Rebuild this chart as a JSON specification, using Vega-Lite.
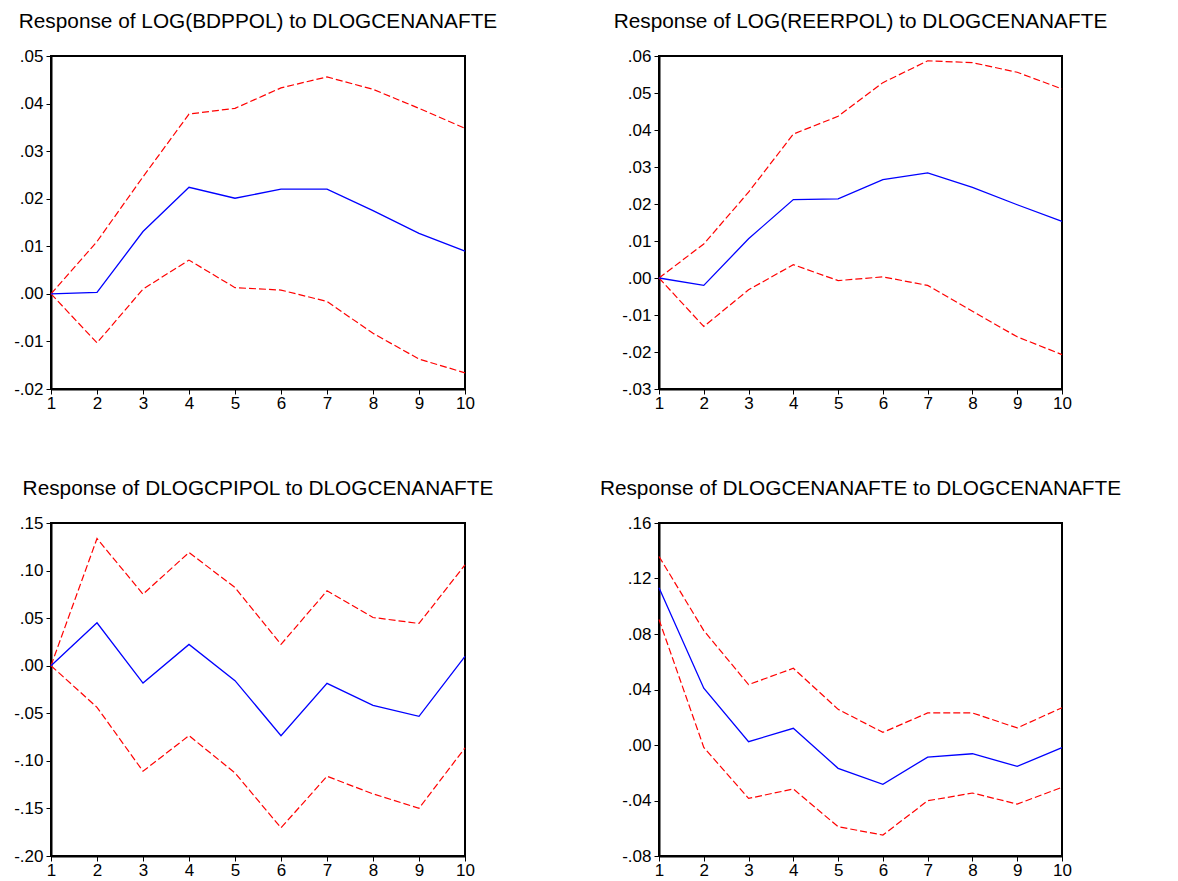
{
  "$schema": "https://vega.github.io/schema/vega-lite/v6.json",
  "background": "white",
  "padding": {"left": 12, "top": 10, "right": 5, "bottom": 0},
  "bounds": "flush",
  "columns": 2,
  "spacing": {"row": 134, "column": 194},
  "datasets": {
    "bdp": [
      {"h": 1, "resp": 0.0, "upper": 0.0, "lower": 0.0},
      {"h": 2, "resp": 0.0003, "upper": 0.011, "lower": -0.0103},
      {"h": 3, "resp": 0.0131, "upper": 0.0246, "lower": 0.001},
      {"h": 4, "resp": 0.0224, "upper": 0.0378, "lower": 0.0071},
      {"h": 5, "resp": 0.0201, "upper": 0.039, "lower": 0.0013},
      {"h": 6, "resp": 0.022, "upper": 0.0433, "lower": 0.0008},
      {"h": 7, "resp": 0.022, "upper": 0.0456, "lower": -0.0016},
      {"h": 8, "resp": 0.0175, "upper": 0.043, "lower": -0.0083},
      {"h": 9, "resp": 0.0127, "upper": 0.039, "lower": -0.0137},
      {"h": 10, "resp": 0.009, "upper": 0.0348, "lower": -0.0166}
    ],
    "reer": [
      {"h": 1, "resp": 0.0, "upper": 0.0, "lower": 0.0},
      {"h": 2, "resp": -0.002, "upper": 0.0092, "lower": -0.0131},
      {"h": 3, "resp": 0.0106, "upper": 0.0232, "lower": -0.0032},
      {"h": 4, "resp": 0.0212, "upper": 0.0389, "lower": 0.0036},
      {"h": 5, "resp": 0.0214, "upper": 0.0437, "lower": -0.0007},
      {"h": 6, "resp": 0.0266, "upper": 0.0528, "lower": 0.0003},
      {"h": 7, "resp": 0.0284, "upper": 0.0587, "lower": -0.002},
      {"h": 8, "resp": 0.0245, "upper": 0.0582, "lower": -0.009},
      {"h": 9, "resp": 0.0198, "upper": 0.0556, "lower": -0.0159},
      {"h": 10, "resp": 0.0153, "upper": 0.0511, "lower": -0.0207}
    ],
    "cpi": [
      {"h": 1, "resp": 0.0, "upper": 0.0, "lower": 0.0},
      {"h": 2, "resp": 0.0451, "upper": 0.1337, "lower": -0.0437},
      {"h": 3, "resp": -0.0182, "upper": 0.0752, "lower": -0.1109},
      {"h": 4, "resp": 0.0224, "upper": 0.119, "lower": -0.0735},
      {"h": 5, "resp": -0.0157, "upper": 0.0822, "lower": -0.1127},
      {"h": 6, "resp": -0.0735, "upper": 0.0224, "lower": -0.1704},
      {"h": 7, "resp": -0.0185, "upper": 0.0787, "lower": -0.1162},
      {"h": 8, "resp": -0.0416, "upper": 0.0507, "lower": -0.1347},
      {"h": 9, "resp": -0.0532, "upper": 0.0444, "lower": -0.1498},
      {"h": 10, "resp": 0.0098, "upper": 0.106, "lower": -0.0864}
    ],
    "cena": [
      {"h": 1, "resp": 0.1133, "upper": 0.1359, "lower": 0.0904},
      {"h": 2, "resp": 0.0409, "upper": 0.0825, "lower": -0.0017},
      {"h": 3, "resp": 0.0024, "upper": 0.0435, "lower": -0.0385},
      {"h": 4, "resp": 0.012, "upper": 0.0553, "lower": -0.0317},
      {"h": 5, "resp": -0.0168, "upper": 0.0257, "lower": -0.0589},
      {"h": 6, "resp": -0.0284, "upper": 0.0091, "lower": -0.0649},
      {"h": 7, "resp": -0.0087, "upper": 0.0231, "lower": -0.0402},
      {"h": 8, "resp": -0.0063, "upper": 0.0231, "lower": -0.0346},
      {"h": 9, "resp": -0.0154, "upper": 0.0123, "lower": -0.0426},
      {"h": 10, "resp": -0.0019, "upper": 0.0269, "lower": -0.0305}
    ]
  },
  "concat": [
    {
      "title": "Response of LOG(BDPPOL) to DLOGCENANAFTE",
      "width": 414,
      "height": 333,
      "data": {"name": "bdp"},
      "encoding": {
        "x": {"field": "h", "type": "quantitative", "title": null,
              "scale": {"domain": [1, 10], "nice": false, "zero": false},
              "axis": {"values": [1, 2, 3, 4, 5, 6, 7, 8, 9, 10], "tickCount": 20, "format": "d", "labelOverlap": false}}
      },
      "layer": [
        {"mark": {"type": "rule", "color": "black", "strokeWidth": 1},
         "encoding": {"y": {"datum": 0, "type": "quantitative"}}},
        {"mark": {"type": "line", "color": "#ff0000", "strokeWidth": 1.2, "strokeDash": [7, 3]},
         "encoding": {"y": {"field": "upper", "type": "quantitative", "title": null,
                            "scale": {"domain": [-0.02, 0.05], "nice": false, "zero": false},
                            "axis": {"values": [-0.02, -0.01, 0, 0.01, 0.02, 0.03, 0.04, 0.05], "tickCount": 20, "labelOverlap": false}}}},
        {"mark": {"type": "line", "color": "#ff0000", "strokeWidth": 1.2, "strokeDash": [7, 3]},
         "encoding": {"y": {"field": "lower", "type": "quantitative"}}},
        {"mark": {"type": "line", "color": "#0000ff", "strokeWidth": 1.3},
         "encoding": {"y": {"field": "resp", "type": "quantitative"}}}
      ]
    },
    {
      "title": "Response of LOG(REERPOL) to DLOGCENANAFTE",
      "width": 403,
      "height": 333,
      "data": {"name": "reer"},
      "encoding": {
        "x": {"field": "h", "type": "quantitative", "title": null,
              "scale": {"domain": [1, 10], "nice": false, "zero": false},
              "axis": {"values": [1, 2, 3, 4, 5, 6, 7, 8, 9, 10], "tickCount": 20, "format": "d", "labelOverlap": false}}
      },
      "layer": [
        {"mark": {"type": "rule", "color": "black", "strokeWidth": 1},
         "encoding": {"y": {"datum": 0, "type": "quantitative"}}},
        {"mark": {"type": "line", "color": "#ff0000", "strokeWidth": 1.2, "strokeDash": [7, 3]},
         "encoding": {"y": {"field": "upper", "type": "quantitative", "title": null,
                            "scale": {"domain": [-0.03, 0.06], "nice": false, "zero": false},
                            "axis": {"values": [-0.03, -0.02, -0.01, 0, 0.01, 0.02, 0.03, 0.04, 0.05, 0.06], "tickCount": 20, "labelOverlap": false}}}},
        {"mark": {"type": "line", "color": "#ff0000", "strokeWidth": 1.2, "strokeDash": [7, 3]},
         "encoding": {"y": {"field": "lower", "type": "quantitative"}}},
        {"mark": {"type": "line", "color": "#0000ff", "strokeWidth": 1.3},
         "encoding": {"y": {"field": "resp", "type": "quantitative"}}}
      ]
    },
    {
      "title": "Response of DLOGCPIPOL to DLOGCENANAFTE",
      "width": 414,
      "height": 333,
      "data": {"name": "cpi"},
      "encoding": {
        "x": {"field": "h", "type": "quantitative", "title": null,
              "scale": {"domain": [1, 10], "nice": false, "zero": false},
              "axis": {"values": [1, 2, 3, 4, 5, 6, 7, 8, 9, 10], "tickCount": 20, "format": "d", "labelOverlap": false}}
      },
      "layer": [
        {"mark": {"type": "rule", "color": "black", "strokeWidth": 1},
         "encoding": {"y": {"datum": 0, "type": "quantitative"}}},
        {"mark": {"type": "line", "color": "#ff0000", "strokeWidth": 1.2, "strokeDash": [7, 3]},
         "encoding": {"y": {"field": "upper", "type": "quantitative", "title": null,
                            "scale": {"domain": [-0.2, 0.15], "nice": false, "zero": false},
                            "axis": {"values": [-0.2, -0.15, -0.1, -0.05, 0, 0.05, 0.1, 0.15], "tickCount": 20, "labelOverlap": false}}}},
        {"mark": {"type": "line", "color": "#ff0000", "strokeWidth": 1.2, "strokeDash": [7, 3]},
         "encoding": {"y": {"field": "lower", "type": "quantitative"}}},
        {"mark": {"type": "line", "color": "#0000ff", "strokeWidth": 1.3},
         "encoding": {"y": {"field": "resp", "type": "quantitative"}}}
      ]
    },
    {
      "title": "Response of DLOGCENANAFTE to DLOGCENANAFTE",
      "width": 403,
      "height": 333,
      "data": {"name": "cena"},
      "encoding": {
        "x": {"field": "h", "type": "quantitative", "title": null,
              "scale": {"domain": [1, 10], "nice": false, "zero": false},
              "axis": {"values": [1, 2, 3, 4, 5, 6, 7, 8, 9, 10], "tickCount": 20, "format": "d", "labelOverlap": false}}
      },
      "layer": [
        {"mark": {"type": "rule", "color": "black", "strokeWidth": 1},
         "encoding": {"y": {"datum": 0, "type": "quantitative"}}},
        {"mark": {"type": "line", "color": "#ff0000", "strokeWidth": 1.2, "strokeDash": [7, 3]},
         "encoding": {"y": {"field": "upper", "type": "quantitative", "title": null,
                            "scale": {"domain": [-0.08, 0.16], "nice": false, "zero": false},
                            "axis": {"values": [-0.08, -0.04, 0, 0.04, 0.08, 0.12, 0.16], "tickCount": 20, "labelOverlap": false}}}},
        {"mark": {"type": "line", "color": "#ff0000", "strokeWidth": 1.2, "strokeDash": [7, 3]},
         "encoding": {"y": {"field": "lower", "type": "quantitative"}}},
        {"mark": {"type": "line", "color": "#0000ff", "strokeWidth": 1.3},
         "encoding": {"y": {"field": "resp", "type": "quantitative"}}}
      ]
    }
  ],
  "config": {
    "view": {"stroke": "black", "strokeWidth": 2},
    "font": "Liberation Sans",
    "title": {"font": "Liberation Sans", "fontSize": 20.8, "fontWeight": "normal", "color": "black",
              "anchor": "middle", "frame": "group", "offset": 14},
    "axis": {"grid": false, "labelFont": "Liberation Sans", "labelFontSize": 17, "labelColor": "black",
             "tickColor": "black", "tickSize": 5, "tickWidth": 1, "domainColor": "black", "domainWidth": 2,
             "labelPadding": 3, "labelOverlap": false, "labelFlush": false, "labelBound": false},
    "axisY": {"labelExpr": "replace(replace(format(datum.value, '.2f'), '\u2212', '-'), '0.', '.')"},
    "axisX": {"labelPadding": 1}
  }
}
